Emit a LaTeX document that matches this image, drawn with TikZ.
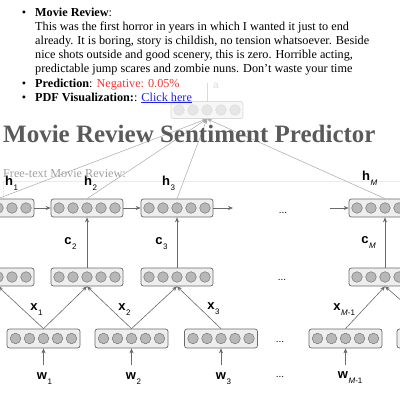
\documentclass[tikz,border=0pt]{standalone}
\usepackage{fontspec}
\setmainfont{Liberation Serif}
\setsansfont{Liberation Sans}
\usetikzlibrary{arrows.meta, positioning}

\definecolor{cellline}{HTML}{6A6A6A}
\definecolor{cellfill}{HTML}{EEEEEE}
\definecolor{dotline}{HTML}{777777}
\definecolor{dotfill}{HTML}{B8B8B8}
\definecolor{arrowgray}{HTML}{6A6A6A}
\definecolor{thingray}{HTML}{A8A8A8}
\definecolor{fadeline}{HTML}{DADADA}
\definecolor{fadefill}{HTML}{F7F7F7}
\definecolor{fadedot}{HTML}{E6E6E6}
\definecolor{titlegray}{HTML}{5A5A5A}
\definecolor{hintgray}{HTML}{A0A0A0}
\definecolor{inputline}{HTML}{EBEBEB}
\definecolor{negred}{HTML}{FF3030}
\definecolor{linkblue}{HTML}{2020EE}

% subscript that does not change the width of the label
\newcommand{\lsub}[1]{\rlap{\smash{\kern0.6pt\raisebox{-5pt}{\fontsize{8}{8}\selectfont\mdseries #1}}}}

\begin{document}
\begin{tikzpicture}[x=1pt, y=-1pt, >={Stealth[length=5pt, width=4pt]},
    cell/.style={draw=cellline, fill=cellfill, rounded corners=2.5pt, line width=0.7pt,
        minimum width=72pt, minimum height=18pt, inner sep=0pt},
    wordcell/.style={cell, minimum width=73pt, minimum height=19pt},
    faded/.style={cell, draw=fadeline, fill=fadefill, minimum height=17pt},
    dot/.style={draw=dotline, fill=dotfill, line width=0.5pt},
    fadeddot/.style={draw=fadeline, fill=fadedot, line width=0.5pt},
    conn/.style={->, draw=arrowgray, line width=0.6pt},
    thinconn/.style={->, draw=thingray, line width=0.5pt},
    lbl/.style={font=\sffamily\bfseries\fontsize{13}{13}\selectfont, inner sep=0pt},
    dots/.style={font=\sffamily\fontsize{10}{10}\selectfont, inner sep=0pt},
    page/.style={font=\fontsize{12.2}{14.2}\selectfont, inner sep=0pt, anchor=base west}
    ]
    \useasboundingbox (0,0) rectangle (400,400);
    \clip (0,0) rectangle (400,400);

    % input field of the page
    \draw[draw=inputline, line width=1pt] (3,200) -- (3,181) -- (400,181);

    % output state (faded)
    \node[faded] (out) at (207,110) {};
    \foreach \k in {-2,...,2}
        \draw[fadeddot] ([xshift=\k*14pt]out.center) circle (5.3pt);
    \node[font=\sffamily\fontsize{10}{10}\selectfont, text=fadeline, inner sep=0pt] (outlbl) at (216,86) {a};
    \draw[draw=fadeline, line width=0.6pt] (out.north) -- (out.north |- outlbl.north);

    % hidden states
    \node[cell] (h1) at (-2,208) {};
    \node[cell] (h2) at (87,208) {};
    \node[cell] (h3) at (177,208) {};
    \node[cell] (hM) at (385,208) {};
    % sentence vectors
    \node[cell] (c1) at (-2,277) {};
    \node[cell] (c2) at (87,277) {};
    \node[cell] (c3) at (177,277) {};
    \node[cell] (cM) at (385,277) {};
    % word vectors
    \node[wordcell] (w1) at (43.5,338.5) {};
    \node[wordcell] (w2) at (131.5,338.5) {};
    \node[wordcell] (w3) at (221,338.5) {};
    \node[wordcell] (wm) at (345.5,338.5) {};
    \node[wordcell] (wM) at (433.5,338.5) {};

    \foreach \n in {h1,h2,h3,hM,c1,c2,c3,cM,w1,w2,w3,wm,wM}
        \foreach \k in {-2,...,2}
            \draw[dot] ([xshift=\k*14pt]\n.center) circle (5.3pt);

    % connections
    \foreach \k in {1,2,3,M}
        \draw[thinconn] (h\k.north) -- (out.south);
    \draw[conn] (h1) -- (h2);
    \draw[conn] (h2) -- (h3);
    \coordinate (hgo) at (233,208);
    \coordinate (hcome) at (330,208);
    \draw[conn] (h3) -- (hgo);
    \draw[conn] (hcome) -- (hM);
    \foreach \k in {1,2,3,M}
        \draw[conn] (c\k) -- (h\k);
    \draw[conn] (w1.north) -- (c1.south);
    \draw[conn] (w1.north) -- (c2.south);
    \draw[conn] (w2.north) -- (c2.south);
    \draw[conn] (w2.north) -- (c3.south);
    \draw[conn] (w3.north) -- (c3.south);
    \draw[conn] (wm.north) -- (cM.south);
    \draw[conn] (wM.north) -- (cM.south);
    \foreach \n/\x in {w1/43.5, w2/131.5, w3/221, wm/345.5} {
        \coordinate (in\n) at (\x,365);
        \draw[conn] (in\n) -- (\n);
    }

    % labels
    \node[lbl] (lh1) at (9,181) {h\lsub{1}};
    \node[lbl] (lh2) at (88,181) {h\lsub{2}};
    \node[lbl] (lh3) at (166,181) {h\lsub{3}};
    \node[lbl] (lhM) at (366,176) {h\lsub{\textit{M}}};
    \node[lbl] (lc2) at (68,241) {c\lsub{2}};
    \node[lbl] (lc3) at (159,241) {c\lsub{3}};
    \node[lbl] (lcM) at (365,240) {c\lsub{\textit{M}}};
    \node[lbl] (lx1) at (34,307) {x\lsub{1}};
    \node[lbl] (lx2) at (122,307) {x\lsub{2}};
    \node[lbl] (lx3) at (211,306) {x\lsub{3}};
    \node[lbl] (lxm) at (337,307) {x\lsub{\textit{M}-1}};
    \node[lbl] (lw1) at (42,376) {w\lsub{1}};
    \node[lbl] (lw2) at (131,376) {w\lsub{2}};
    \node[lbl] (lw3) at (221,376) {w\lsub{3}};
    \node[lbl] (lwm) at (343,375) {w\lsub{\textit{M}-1}};
    \node[dots] (hdots) at (283,213) {...};
    \node[dots] (cdots) at (282,280) {...};
    \node[dots] (wdots) at (280,342) {...};
    \node[dots] (ldots) at (280,377) {...};

    % page text
    \node[page, anchor=base] (bul1) at (24,16) {•};
    \node[page, anchor=base] (bul2) at (24,87) {•};
    \node[page, anchor=base] (bul3) at (24,101) {•};
    \node[page, align=left] (review) at (35,72.8) {\textbf{Movie Review}:\\
        This was the first horror in years in which I wanted it just to end\\
        already. It is boring, story is childish, no tension whatsoever. Beside\\
        nice shots outside and good scenery, this is zero. Horrible acting,\\
        predictable jump scares and zombie nuns. Don't waste your time};
    \node[page] (pred) at (35,87) {\textbf{Prediction}: \textcolor{negred}{Negative: 0.05\%}};
    \node[page] (viz) at (35,101) {\textbf{PDF Visualization:}: \textcolor{linkblue}{\underline{Click here}}};
    \node[anchor=base west, inner sep=0pt, text=titlegray, font=\bfseries\fontsize{25}{25}\selectfont]
        (title) at (3,142) {Movie Review Sentiment Predictor};
    \node[page, text=hintgray] (hint) at (3,177) {Free-text Movie Review:};
\end{tikzpicture}
\end{document}
